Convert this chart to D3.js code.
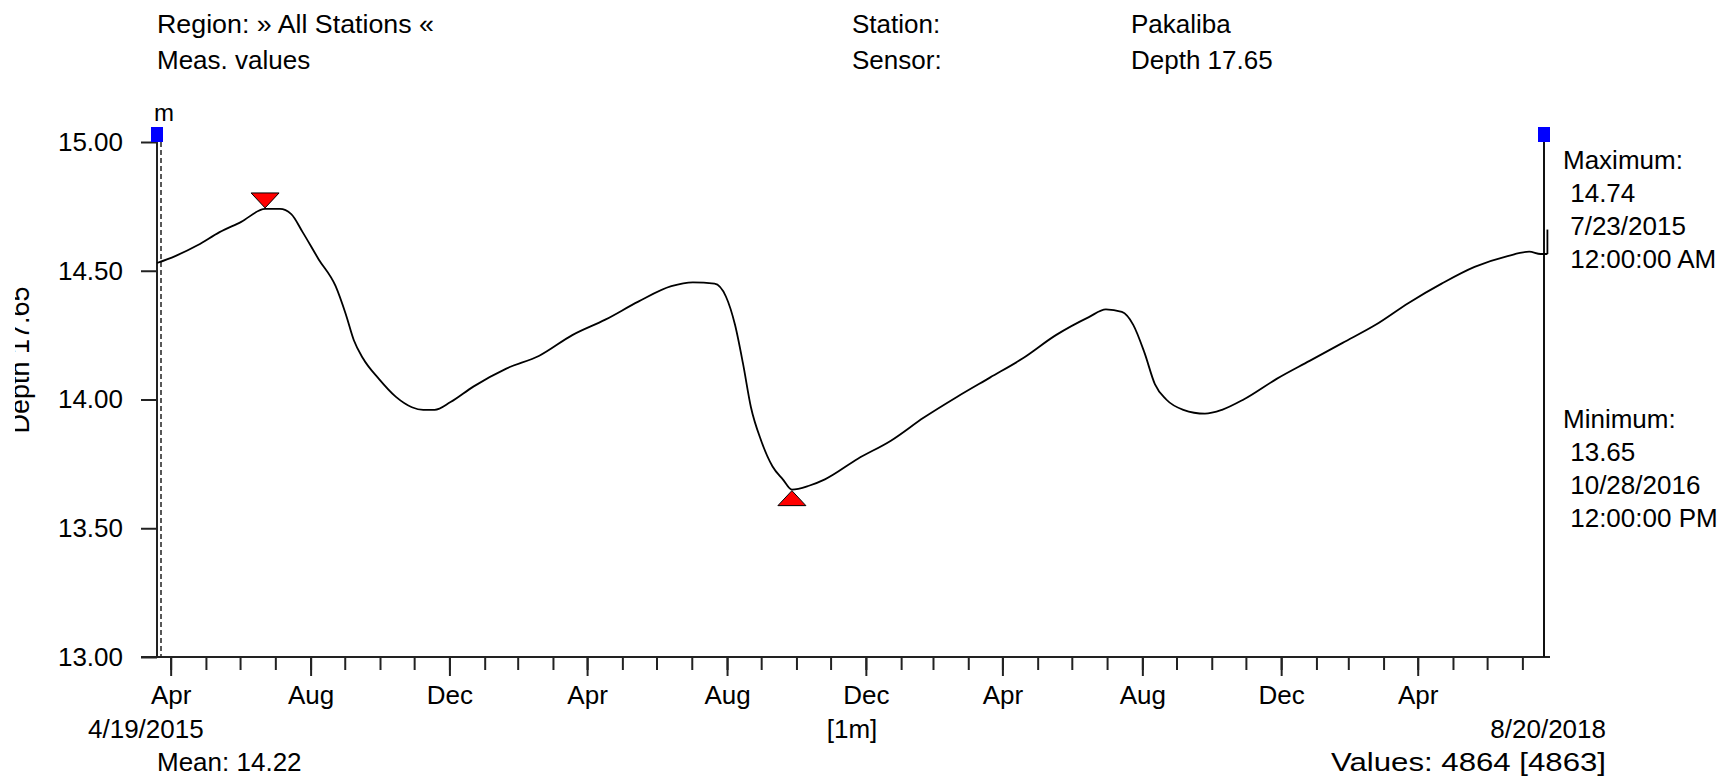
<!DOCTYPE html>
<html>
<head>
<meta charset="utf-8">
<script src="https://cdn.jsdelivr.net/npm/d3@7"></script>
<style>
body { margin: 0; background: #fff; }
svg { display: block; font-family: "Liberation Sans", Arial, sans-serif; }
</style>
</head>
<body>
<svg id="chart"></svg>
<script>
const w = 1728
const h = 779
const fontSize = 26

const dates = ['2015-04-19', '2015-05-05', '2015-05-25', '2015-06-13', '2015-07-02', '2015-07-23',
	'2015-08-05', '2015-08-15', '2015-08-25', '2015-09-08', '2015-09-23', '2015-10-02', '2015-10-09',
	'2015-10-17', '2015-10-31', '2015-11-15', '2015-11-29', '2015-12-09', '2015-12-19', '2016-01-02',
	'2016-01-22', '2016-02-20', '2016-03-20', '2016-04-18', '2016-05-17', '2016-06-15', '2016-07-14',
	'2016-08-02', '2016-08-21', '2016-08-31', '2016-09-08', '2016-09-15', '2016-09-22', '2016-10-01',
	'2016-10-11', '2016-10-20', '2016-10-28', '2016-11-12', '2016-11-26', '2016-12-25', '2017-01-23',
	'2017-02-21', '2017-03-22', '2017-04-20', '2017-05-19', '2017-06-17', '2017-07-16', '2017-07-31',
	'2017-08-14', '2017-08-24', '2017-09-03', '2017-09-12', '2017-09-22', '2017-10-07', '2017-10-26',
	'2017-11-10', '2017-11-29', '2017-12-28', '2018-01-26', '2018-02-24', '2018-03-25', '2018-04-23',
	'2018-05-22', '2018-06-20', '2018-07-19', '2018-08-07', '2018-08-17', '2018-08-23']
const depth = [14.53, 14.557, 14.60, 14.65, 14.69, 14.74,
	14.74, 14.72, 14.65, 14.545, 14.44, 14.33, 14.23,
	14.16, 14.08, 14.01, 13.97, 13.96, 13.96, 13.99,
	14.05, 14.12, 14.17, 14.25, 14.31, 14.38, 14.44,
	14.455, 14.45, 14.40, 14.29, 14.14, 13.97, 13.84,
	13.74, 13.69, 13.65, 13.665, 13.69, 13.77, 13.84,
	13.93, 14.01, 14.085, 14.16, 14.25, 14.32, 14.35,
	14.34, 14.29, 14.18, 14.06, 14.00, 13.96, 13.945,
	13.96, 14.00, 14.08, 14.15, 14.22, 14.29, 14.375,
	14.45, 14.515, 14.557, 14.574, 14.565, 14.565]
// last reading jumps up right at the end
const lastDate = '2018-08-23'
const lastValues = [14.565, 14.66]

const yTicks = [13, 13.5, 14, 14.5, 15]
const monthTickDates = ['2015-05-01', '2015-09-01', '2016-01-01', '2016-05-01', '2016-09-01',
	'2017-01-01', '2017-05-01', '2017-09-01', '2018-01-01', '2018-05-01']
const monthLabels = ['Apr', 'Aug', 'Dec', 'Apr', 'Aug', 'Dec', 'Apr', 'Aug', 'Dec', 'Apr']

const maxPoint = { date: '2015-07-23', value: 14.74 }
const minPoint = { date: '2016-10-28', value: 13.65 }
const maxInfo = ['Maximum:', ' 14.74', ' 7/23/2015', ' 12:00:00 AM']
const minInfo = ['Minimum:', ' 13.65', ' 10/28/2016', ' 12:00:00 PM']

const parse = d3.timeParse('%Y-%m-%d')
const data = dates.map((d, i) => ({ date: parse(d), value: depth[i] }))

const margin = { left: 157, right: 1544, top: 142, bottom: 657 }

const SVG = d3.select('#chart')
	.attr('width', w)
	.attr('height', h)
	.attr('font-size', fontSize)

let xScale = d3.scaleTime()
	.domain([parse('2015-04-19'), parse('2018-08-20')])
	.range([margin.left, margin.right])

let yScale = d3.scaleLinear()
	.domain([13, 15])
	.range([margin.bottom, margin.top])

//header
SVG.append('text').attr('x', 157).attr('y', 33)
	.attr('textLength', 277).attr('lengthAdjust', 'spacingAndGlyphs').text('Region: » All Stations «')
SVG.append('text').attr('x', 157).attr('y', 69).text('Meas. values')
SVG.append('text').attr('x', 852).attr('y', 33).text('Station:')
SVG.append('text').attr('x', 852).attr('y', 69).text('Sensor:')
SVG.append('text').attr('x', 1131).attr('y', 33).text('Pakaliba')
SVG.append('text').attr('x', 1131).attr('y', 69).text('Depth 17.65')

//y axis title, partly cut off at the left edge
SVG.append('clipPath').attr('id', 'clipTitle')
	.append('rect').attr('x', 15).attr('y', 0).attr('width', 60).attr('height', h)
SVG.append('g')
	.attr('clip-path', 'url(#clipTitle)')
	.append('text')
	.attr('transform', 'translate(29, 360) rotate(-90)')
	.attr('text-anchor', 'middle')
	.attr('font-size', 27)
	.text('Depth 17.65')

SVG.append('text').attr('x', 154).attr('y', 121).attr('font-size', 24).text('m')

//y axis
let yAxis = SVG.append('g')
	.attr('transform', `translate(${margin.left}, 0)`)
	.call(d3.axisLeft(yScale).tickValues(yTicks).tickFormat(d3.format('.2f')).tickSize(16).tickPadding(18))
yAxis.select('.domain').remove()
yAxis.selectAll('line').attr('stroke', '#222').attr('stroke-width', 2)
yAxis.selectAll('text').attr('font-size', fontSize).attr('font-family', null).attr('fill', '#000')

//x axis: monthly minor ticks and labelled ones
let xMinor = SVG.append('g')
	.attr('transform', `translate(0, ${margin.bottom})`)
	.call(d3.axisBottom(xScale).ticks(d3.timeMonth.every(1)).tickSize(13).tickFormat(''))
xMinor.select('.domain').remove()
xMinor.selectAll('line').attr('stroke', '#222').attr('stroke-width', 2)

let xMajor = SVG.append('g')
	.attr('transform', `translate(0, ${margin.bottom})`)
	.call(d3.axisBottom(xScale).tickValues(monthTickDates.map(parse)).tickSize(19)
		.tickFormat((_, i) => monthLabels[i]).tickPadding(10))
xMajor.select('.domain').remove()
xMajor.selectAll('line').attr('stroke', '#222').attr('stroke-width', 2)
xMajor.selectAll('text').attr('font-size', fontSize).attr('font-family', null).attr('fill', '#000')

//frame lines
SVG.append('line')
	.attr('x1', 141).attr('x2', 1550)
	.attr('y1', margin.bottom).attr('y2', margin.bottom)
	.attr('stroke', '#222').attr('stroke-width', 2)
SVG.append('line')
	.attr('x1', margin.left).attr('x2', margin.left)
	.attr('y1', margin.top).attr('y2', margin.bottom)
	.attr('stroke', '#222').attr('stroke-width', 2)
SVG.append('line')
	.attr('x1', margin.left + 4).attr('x2', margin.left + 4)
	.attr('y1', margin.top).attr('y2', margin.bottom)
	.attr('stroke', '#222').attr('stroke-width', 1.5)
	.attr('stroke-dasharray', '5, 3')
SVG.append('line')
	.attr('x1', margin.right).attr('x2', margin.right)
	.attr('y1', margin.top).attr('y2', margin.bottom)
	.attr('stroke', '#111').attr('stroke-width', 2)

//blue handles
SVG.selectAll('.handle').data([margin.left, margin.right]).enter().append('rect')
	.attr('class', 'handle')
	.attr('x', d => d - 6).attr('y', 127)
	.attr('width', 12).attr('height', 15)
	.attr('fill', '#0000ff')

//series line
let line = d3.line()
	.x(d => xScale(d.date))
	.y(d => yScale(d.value))
	.curve(d3.curveMonotoneX)
SVG.append('path')
	.datum(data)
	.attr('d', line)
	.attr('stroke', '#000')
	.attr('stroke-width', 1.8)
	.attr('fill', 'none')
SVG.append('path')
	.datum(lastValues.map(v => ({ date: parse(lastDate), value: v })))
	.attr('d', d3.line().x(d => xScale(d.date)).y(d => yScale(d.value)))
	.attr('stroke', '#000')
	.attr('stroke-width', 1.8)
	.attr('fill', 'none')

//max / min markers
let mx = xScale(parse(maxPoint.date)), my = yScale(maxPoint.value)
SVG.append('path')
	.attr('d', `M${mx},${my - 1} L${mx - 14},${my - 16} L${mx + 14},${my - 16} Z`)
	.attr('fill', '#ff0000').attr('stroke', '#000').attr('stroke-width', 1)
let nx = xScale(parse(minPoint.date)), ny = yScale(minPoint.value)
SVG.append('path')
	.attr('d', `M${nx},${ny + 1} L${nx - 14},${ny + 16} L${nx + 14},${ny + 16} Z`)
	.attr('fill', '#ff0000').attr('stroke', '#000').attr('stroke-width', 1)

//right side info
SVG.selectAll('.maxinfo').data(maxInfo).enter().append('text')
	.attr('class', 'maxinfo')
	.attr('x', 1563).attr('y', (_, i) => 169 + i * 33)
	.attr('xml:space', 'preserve')
	.text(d => d)
SVG.selectAll('.mininfo').data(minInfo).enter().append('text')
	.attr('class', 'mininfo')
	.attr('x', 1563).attr('y', (_, i) => 428 + i * 33)
	.attr('xml:space', 'preserve')
	.text(d => d)

//footer
SVG.append('text').attr('x', 88).attr('y', 738).text('4/19/2015')
SVG.append('text').attr('x', 852).attr('y', 738).attr('text-anchor', 'middle').text('[1m]')
SVG.append('text').attr('x', 1606).attr('y', 738).attr('text-anchor', 'end').text('8/20/2018')
SVG.append('text').attr('x', 157).attr('y', 771).text('Mean: 14.22')
SVG.append('text').attr('x', 1606).attr('y', 771).attr('text-anchor', 'end')
	.attr('textLength', 275).attr('lengthAdjust', 'spacingAndGlyphs').text('Values: 4864 [4863]')
</script>
</body>
</html>
